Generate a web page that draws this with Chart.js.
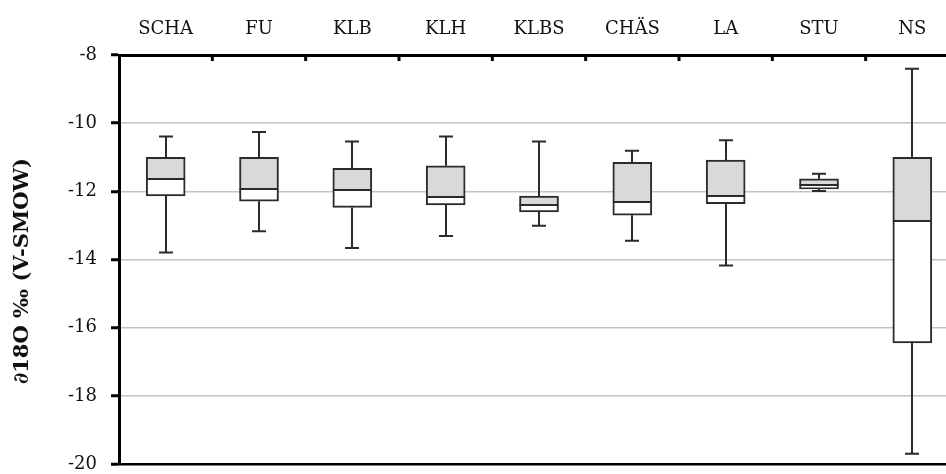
<!DOCTYPE html>
<html>
<head>
<meta charset="utf-8">
<script src="https://cdn.jsdelivr.net/npm/chart.js@4/dist/chart.umd.min.js"></script>
<style>
  html, body { margin: 0; padding: 0; background: #fff; overflow: hidden; }
  #wrap { width: 946px; height: 474px; overflow: hidden; position: relative; }
  canvas { display: block; }
</style>
</head>
<body>
<div id="wrap"><canvas id="c" width="959" height="489"></canvas></div>
<script>
// Sampling sites and their δ18O distribution statistics
const categories   = ['SCHA', 'FU', 'KLB', 'KLH', 'KLBS', 'CHÄS', 'LA', 'STU', 'NS'];
const whiskerHigh  = [-10.39, -10.26, -10.54, -10.39, -10.54, -10.81, -10.50, -11.48, -8.40];
const upperQuart   = [-11.00, -11.00, -11.32, -11.25, -12.14, -11.15, -11.08, -11.63, -11.00];
const medians      = [-11.65, -11.92, -11.96, -12.16, -12.40, -12.32, -12.13, -11.82, -12.86];
const lowerQuart   = [-12.13, -12.29, -12.47, -12.40, -12.60, -12.70, -12.36, -11.93, -16.44];
const whiskerLow   = [-13.79, -13.17, -13.66, -13.31, -13.01, -13.45, -14.17, -11.99, -19.69];
const yTickValues  = [-20, -18, -16, -14, -12, -10, -8];
const yAxisTitle   = '∂18O ‰ (V-SMOW)';

const FONT = 'DejaVu Serif';
const INK = '#2b2b2b';
const BOX_WIDTH = 39;

// Whiskers and caps beneath the boxes, median line on top of them
const whiskerPlugin = {
  id: 'whiskers',
  beforeDatasetsDraw(chart) {
    const { ctx, scales: { x, y } } = chart;
    ctx.save();
    ctx.strokeStyle = INK;
    ctx.lineWidth = 2;
    const capHalf = 7;
    categories.forEach((_, i) => {
      const cx = Math.round(x.getPixelForValue(i));
      const yHi = y.getPixelForValue(whiskerHigh[i]);
      const yQ3 = y.getPixelForValue(upperQuart[i]);
      const yQ1 = y.getPixelForValue(lowerQuart[i]);
      const yLo = y.getPixelForValue(whiskerLow[i]);
      ctx.beginPath();
      ctx.moveTo(cx, yHi); ctx.lineTo(cx, yQ3);
      ctx.moveTo(cx, yQ1); ctx.lineTo(cx, yLo);
      ctx.moveTo(cx - capHalf, yHi); ctx.lineTo(cx + capHalf, yHi);
      ctx.moveTo(cx - capHalf, yLo); ctx.lineTo(cx + capHalf, yLo);
      ctx.stroke();
    });
    ctx.restore();
  },
  afterDatasetsDraw(chart) {
    const { ctx, scales: { x, y } } = chart;
    ctx.save();
    ctx.strokeStyle = INK;
    ctx.lineWidth = 2;
    ctx.beginPath();
    categories.forEach((_, i) => {
      const cx = x.getPixelForValue(i);
      const ym = Math.round(y.getPixelForValue(medians[i]));
      ctx.moveTo(cx - BOX_WIDTH / 2, ym);
      ctx.lineTo(cx + BOX_WIDTH / 2, ym);
    });
    ctx.stroke();
    ctx.restore();
  }
};

// Inward tick marks between categories on the top axis, plus the rotated axis title
const axisDecor = {
  id: 'axisDecor',
  afterDraw(chart) {
    const { ctx, scales: { x } } = chart;
    ctx.save();
    ctx.strokeStyle = '#000';
    ctx.lineWidth = 3;
    ctx.beginPath();
    for (let k = 1; k <= categories.length; k++) {
      const bx = k < categories.length
        ? (x.getPixelForValue(k - 1) + x.getPixelForValue(k)) / 2
        : x.right;
      ctx.moveTo(bx, x.bottom);
      ctx.lineTo(bx, x.bottom + 6);
    }
    ctx.stroke();

    ctx.translate(23, 271);
    ctx.rotate(-Math.PI / 2);
    ctx.fillStyle = '#111';
    ctx.font = 'bold 21px "' + FONT + '"';
    ctx.textAlign = 'center';
    ctx.textBaseline = 'middle';
    ctx.fillText(yAxisTitle, 0, 0);
    ctx.restore();
  }
};

const boxCommon = {
  borderColor: INK,
  borderSkipped: false,
  grouped: false,
  barThickness: BOX_WIDTH
};

new Chart(document.getElementById('c'), {
  type: 'bar',
  data: {
    labels: categories,
    datasets: [
      Object.assign({
        label: 'Q1–median',
        data: categories.map((_, i) => [lowerQuart[i], medians[i]]),
        backgroundColor: '#ffffff',
        borderWidth: { top: 0, bottom: 2, left: 2, right: 2 }
      }, boxCommon),
      Object.assign({
        label: 'median–Q3',
        data: categories.map((_, i) => [medians[i], upperQuart[i]]),
        backgroundColor: '#d9d9d9',
        borderWidth: { top: 2, bottom: 0, left: 2, right: 2 }
      }, boxCommon)
    ]
  },
  options: {
    responsive: false,
    animation: false,
    devicePixelRatio: 1,
    layout: { padding: 0 },
    plugins: {
      legend: { display: false },
      tooltip: { enabled: false }
    },
    scales: {
      x: {
        type: 'category',
        position: 'top',
        offset: true,
        grid: { display: false },
        border: { display: true, color: '#000', width: 3 },
        ticks: {
          color: '#111',
          font: { family: FONT, size: 18 },
          padding: 7,
          maxRotation: 0,
          autoSkip: false
        },
        afterFit(scale) { scale.height = 55; }
      },
      y: {
        position: 'left',
        min: -20,
        max: -8,
        afterBuildTicks(scale) { scale.ticks = yTickValues.map(v => ({ value: v })); },
        grid: {
          color: ctx => (ctx.tick && ctx.tick.value === -20) ? '#000' : '#c3c3c3',
          lineWidth: ctx => (ctx.tick && ctx.tick.value === -20) ? 2.5 : 1.5,
          tickLength: 8,
          tickColor: '#000',
          tickWidth: 3
        },
        border: { display: true, color: '#000', width: 3 },
        ticks: {
          color: '#111',
          font: { family: FONT, size: 18 },
          padding: 14
        },
        afterFit(scale) { scale.width = 119; }
      }
    }
  },
  plugins: [whiskerPlugin, axisDecor]
});
</script>
</body>
</html>
